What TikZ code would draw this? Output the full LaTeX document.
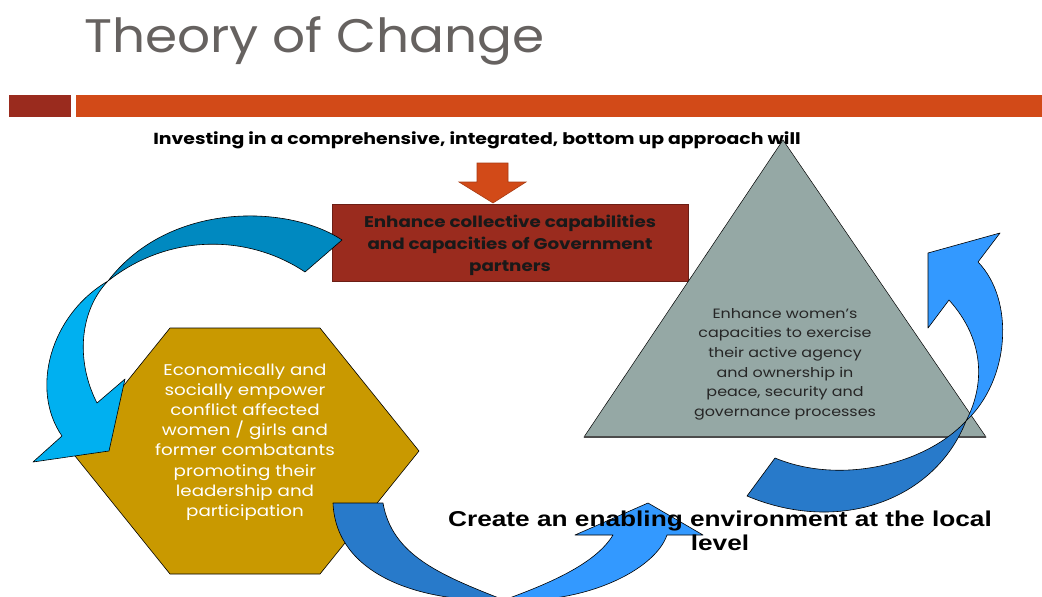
\documentclass[tikz,border=0pt]{standalone}
\usepackage{fontspec}
\setmainfont{Poppins}[FakeStretch=1.18]
\newfontfamily\arialfont{Liberation Sans}[FakeStretch=1.22]
\newfontfamily\titlefont{Poppins}[FakeStretch=1.1]
\definecolor{titlegray}{RGB}{102,98,96}
\definecolor{bardark}{RGB}{154,43,30}
\definecolor{barorange}{RGB}{210,74,24}
\definecolor{hexgold}{RGB}{201,153,0}
\definecolor{trigray}{RGB}{149,168,165}
\definecolor{cyandark}{RGB}{0,137,192}
\definecolor{cyanlight}{RGB}{0,176,240}
\definecolor{bluedark}{RGB}{40,122,202}
\definecolor{bluelight}{RGB}{51,153,255}
\begin{document}
\begin{tikzpicture}[x=1pt,y=-1pt,
    bandpart/.style={draw=black, line width=0.6pt, line join=round},
    bodytext/.style={align=center, inner sep=0pt, anchor=north}]
    \clip (0,0) rectangle (1042,597);
    \fill[white] (0,0) rectangle (1042,597);
    % 1) Title and the two bars under it
    \node[anchor=base west, inner sep=0pt, text=titlegray,
          font=\titlefont\fontsize{47}{50}\selectfont] (title) at (84,52) {Theory of Change};
    \fill[bardark] (9,95) rectangle (71,117);
    \fill[barorange] (76,95) rectangle (1042,117);
    % 2) Lead sentence, the orange down arrow and the Government box
    \node[anchor=base, inner sep=0pt, font=\bfseries\fontsize{16}{20}\selectfont]
         (lead) at (477,144.5) {Investing in a comprehensive, integrated, bottom up approach will};
    \draw[fill=barorange, draw=barorange!80!black, line width=0.6pt]
         (477,163) -- (508,163) -- (508,182) -- (526,182) -- (493,203)
         -- (459,182) -- (477,182) -- cycle;
    \node[draw=bardark!70!black, fill=bardark, minimum width=356pt, minimum height=77pt,
          inner sep=0pt] (govbox) at (510,242.5) {};
    \node[bodytext, text=black!90, font=\bfseries\fontsize{15.5}{22}\selectfont]
         (govtext) at (510,215) {Enhance collective capabilities\\and capacities of Government\\partners};
    % 3) Triangle for women's agency
    \fill[trigray, draw=black, line width=0.5pt] (783,140) -- (986,437) -- (584,437) -- cycle;
    \draw[gray!60!black, line width=1.2pt] (584,437) -- (986,437);
    \node[bodytext, text=black!85, font=\fontsize{13.5}{19.7}\selectfont]
         (tritext) at (785,308) {Enhance women's\\capacities to exercise\\their active agency\\and ownership in\\peace, security and\\governance processes};
    % 4) Hexagon for economic empowerment
    \fill[hexgold, draw=black, line width=0.6pt]
         (170,328) -- (320,328) -- (419,451) -- (320,574) -- (170,574) -- (71,451) -- cycle;
    \node[bodytext, text=white, font=\fontsize{15.5}{20.2}\selectfont]
         (hextext) at (245,363) {Economically and\\socially empower\\conflict affected\\women / girls and\\former combatants\\promoting their\\leadership and\\participation};
    % 5) Curved arrow from the box down to the hexagon
    \fill[bandpart, fill=cyandark] (342,240) .. controls (290,205) and (170,200) .. (108,281)
         .. controls (170,232) and (250,235) .. (305,272) -- cycle;
    \fill[bandpart, fill=cyanlight] (108,281) .. controls (50,315) and (30,390) .. (62,436)
         -- (33,462) -- (109,451) -- (125,379) -- (97,403)
         .. controls (75,360) and (80,310) .. (108,281) -- cycle;
    % 6) Curved arrow under the hexagon, up to the local level
    \fill[bandpart, fill=bluedark] (333,503) -- (383,503) .. controls (392,555) and (440,575) .. (504,600)
         .. controls (420,603) and (336,575) .. (333,503) -- cycle;
    \fill[bandpart, fill=bluelight] (504,600) .. controls (545,585) and (595,565) .. (613,535)
         -- (575,535) -- (648,503) -- (703,535) -- (667,535)
         .. controls (655,570) and (585,605) .. (504,600) -- cycle;
    % 7) Curved arrow past the triangle corner
    \fill[bandpart, fill=bluedark] (747,496) -- (775,458) .. controls (840,485) and (925,465) .. (966,421)
         .. controls (935,500) and (840,535) .. (747,496) -- cycle;
    \fill[bandpart, fill=bluelight] (966,421) .. controls (985,385) and (985,340) .. (949,300)
         -- (928,328) -- (928,253) -- (1000,233) -- (978,262)
         .. controls (1015,300) and (1010,380) .. (966,421) -- cycle;
    % 8) Local level sentence, set over the arrow head
    \node[bodytext, font=\arialfont\bfseries\fontsize{21.5}{24}\selectfont]
         (local) at (720,511) {Create an enabling environment at the local\\level};
\end{tikzpicture}
\end{document}
